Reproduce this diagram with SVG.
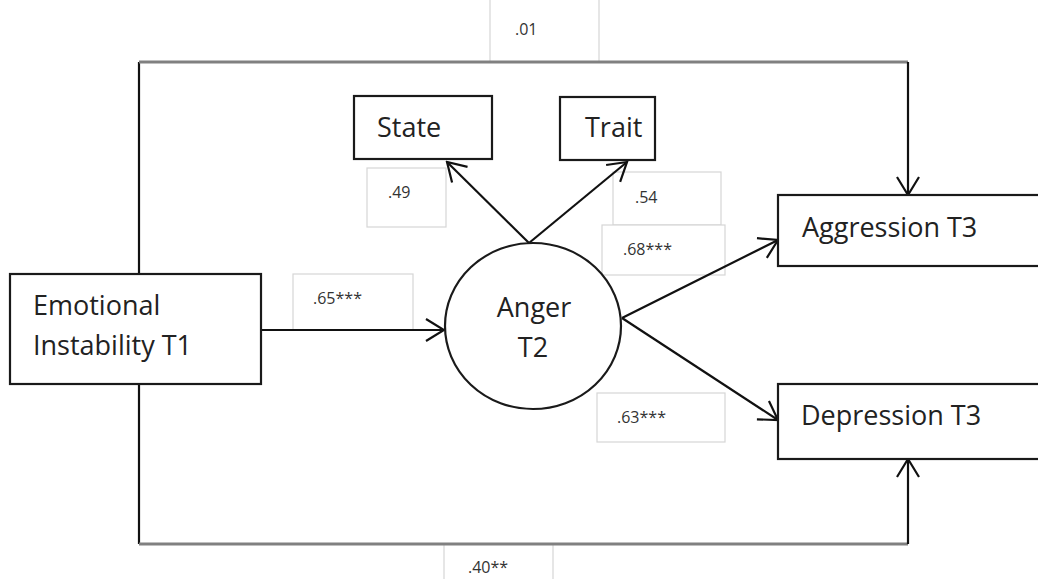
<svg xmlns="http://www.w3.org/2000/svg" width="1038" height="579" viewBox="0 0 1038 579">
<style>
.node{fill:#fff;stroke:#1a1a1a;stroke-width:2.2}
.lbl{fill:#fff;stroke:#d6d6d6;stroke-width:1.2}
.nt{font-family:"Open Sans","Liberation Sans",sans-serif;font-size:27px;fill:#222}
.lt{font-family:"Open Sans","Liberation Sans",sans-serif;font-size:16px;fill:#333}
.c{fill:none;stroke:#111;stroke-width:2.2}
.g{fill:none;stroke:#808080;stroke-width:3}
</style>
<defs>
<marker id="ah" markerUnits="userSpaceOnUse" viewBox="-20 -13 22 26" refX="0" refY="0" markerWidth="22" markerHeight="26" orient="auto">
<path d="M-18,-11 L0,0 L-18,11" fill="none" stroke="#111" stroke-width="2.2"/>
</marker>
</defs>
<g id="labels">
<rect class="lbl" x="490" y="-2" width="109" height="64"/>
<text class="lt" x="515" y="35">.01</text>
<rect class="lbl" x="367" y="168" width="79" height="59"/>
<text class="lt" x="388" y="198">.49</text>
<rect class="lbl" x="613" y="172" width="108" height="53"/>
<text class="lt" x="635" y="203">.54</text>
<rect class="lbl" x="602" y="225" width="123" height="50"/>
<text class="lt" x="623" y="255">.68***</text>
<rect class="lbl" x="293" y="274" width="120" height="56"/>
<text class="lt" x="313" y="304">.65***</text>
<rect class="lbl" x="597" y="393" width="128" height="49"/>
<text class="lt" x="617" y="423">.63***</text>
<rect class="lbl" x="444" y="544" width="109" height="40"/>
<text class="lt" x="468" y="573">.40**</text>
</g>
<g id="connectors">
<path class="c" d="M139,273 V62"/>
<path class="g" d="M139,62 H908"/>
<path class="c" d="M908,62 V195" marker-end="url(#ah)"/>
<path class="c" d="M139,384 V544"/>
<path class="g" d="M139,544 H908"/>
<path class="c" d="M908,544 V459" marker-end="url(#ah)"/>
<path class="c" d="M261,330 H444" marker-end="url(#ah)"/>
<path class="c" d="M529,243 L447,162" marker-end="url(#ah)"/>
<path class="c" d="M529,243 L627,162" marker-end="url(#ah)"/>
<path class="c" d="M622,318 L778,240" marker-end="url(#ah)"/>
<path class="c" d="M622,318 L778,420" marker-end="url(#ah)"/>
</g>
<g id="ei">
<rect class="node" x="10" y="274" width="251" height="110"/>
<text class="nt" x="33" y="315">Emotional</text>
<text class="nt" x="33" y="355">Instability T1</text>
</g>
<g id="anger">
<ellipse class="node" cx="533" cy="326" rx="88" ry="83"/>
<text class="nt" x="534" y="317" text-anchor="middle">Anger</text>
<text class="nt" x="533" y="357" text-anchor="middle">T2</text>
</g>
<g id="state">
<rect class="node" x="354" y="96" width="138" height="63"/>
<text class="nt" x="377" y="137">State</text>
</g>
<g id="trait">
<rect class="node" x="560" y="97" width="95" height="63"/>
<text class="nt" x="585" y="137">Trait</text>
</g>
<g id="aggression">
<rect class="node" x="778" y="195" width="262" height="71"/>
<text class="nt" x="802" y="237">Aggression T3</text>
</g>
<g id="depression">
<rect class="node" x="778" y="384" width="262" height="75"/>
<text class="nt" x="801" y="425">Depression T3</text>
</g>
</svg>
